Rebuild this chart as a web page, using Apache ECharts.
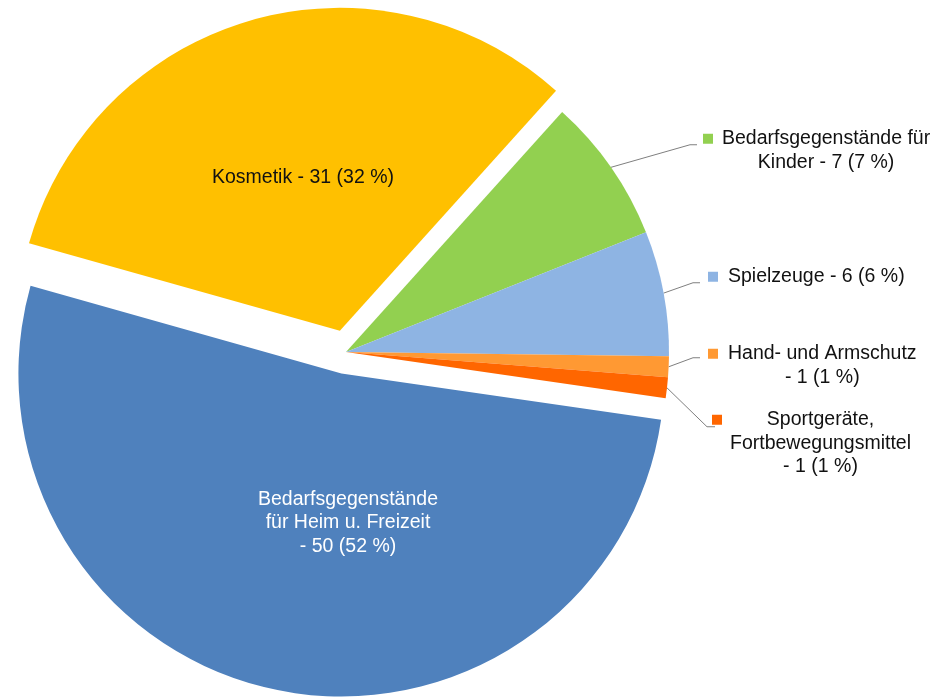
<!DOCTYPE html>
<html>
<head>
<meta charset="utf-8">
<script src="https://cdn.jsdelivr.net/npm/echarts@6/dist/echarts.min.js"></script>
<style>
  html, body { margin: 0; padding: 0; background: #ffffff; }
  #chart { width: 944px; height: 700px; }
</style>
</head>
<body>
<div id="chart"></div>
<script>
// Beanstandete Proben nach Produktgruppe (Anzahl)
const categories = [
  'Bedarfsgegenstände für\nKinder',
  'Spielzeuge',
  'Hand- und Armschutz',
  'Sportgeräte,\nFortbewegungsmittel',
  'Bedarfsgegenstände\nfür Heim u. Freizeit',
  'Kosmetik'
];
const values = [7, 6, 1, 1, 50, 31];
const colors = ['#92D050', '#8EB4E3', '#FF9933', '#FF6600', '#4F81BD', '#FFC000'];
const exploded = [false, false, false, false, true, true];
const valueOnNewLine = [false, false, true, true, true, false];

// label placement: outer labels carry a colour key and a leader line,
// inner labels sit inside their (pulled-out) slice
const LINE_H = 23.5;
const labelPlacement = [
  { left: 703, top: 127, endDx: -6, endDy: 6, bendDx: -7, gap: 9 },
  { left: 708, top: 265, endDx: -8, endDy: 6, bendDx: -7, gap: 10 },
  { left: 708, top: 342, endDx: -8, endDy: 4, bendDx: -7, gap: 10 },
  { left: 712, top: 408, endDx: 3, endDy: 7, bendDx: -8, gap: 8 },
  { inner: true, cx: 348, cy: 523, color: '#ffffff' },
  { inner: true, cx: 303, cy: 178, color: '#111111' }
];

const PIE_CENTER = [346, 352];
const PIE_RADIUS = [0, 323];
const START_ANGLE = 48;
const FONT = { fontFamily: 'Liberation Sans, Arial, sans-serif', fontSize: 19.5, lineHeight: LINE_H };

function labelText(params) {
  const i = params.dataIndex;
  const pct = Math.round(params.percent);
  const sep = valueOnNewLine[i] ? '\n' : ' ';
  return params.name + sep + '- ' + params.value + ' (' + pct + ' %)';
}

const rich = {};
colors.forEach(function (c, i) {
  const gap = labelPlacement[i].gap || 0;
  rich['k' + i] = { width: 10, height: 10, backgroundColor: c, align: 'left' };
  rich['g' + i] = { width: gap, align: 'left' };
  rich['p' + i] = { width: 10 + gap, align: 'left' };
});

// slices, with outer labels and leader lines
const sliceData = categories.map(function (name, i) {
  const inner = !!labelPlacement[i].inner;
  return {
    name: name,
    value: values[i],
    selected: exploded[i],
    itemStyle: { color: colors[i] },
    label: { show: !inner },
    labelLine: { show: !inner }
  };
});

// transparent overlay of the same slices, carrying the inner labels
const innerLabelData = categories.map(function (name, i) {
  const p = labelPlacement[i];
  return {
    name: name,
    value: values[i],
    label: p.inner ? { show: true, color: p.color } : { show: false }
  };
});

const chart = echarts.init(document.getElementById('chart'), null, { renderer: 'canvas' });

chart.setOption({
  animation: false,
  backgroundColor: '#ffffff',
  series: [{
    type: 'pie',
    center: PIE_CENTER,
    radius: PIE_RADIUS,
    startAngle: START_ANGLE,
    clockwise: true,
    selectedMode: 'multiple',
    selectedOffset: 22,
    avoidLabelOverlap: false,
    emphasis: { disabled: true },
    itemStyle: { borderWidth: 0 },
    label: Object.assign({
      position: 'outside',
      color: '#111111',
      align: 'center',
      rich: rich,
      formatter: function (params) {
        const i = params.dataIndex;
        return labelText(params).split('\n').map(function (ln, k) {
          return k === 0 ? '{k' + i + '|}{g' + i + '|}' + ln : '{p' + i + '|}' + ln;
        }).join('\n');
      }
    }, FONT),
    labelLine: {
      length: 10,
      length2: 10,
      smooth: false,
      lineStyle: { color: '#7f7f7f', width: 1 }
    },
    labelLayout: function (params) {
      const p = labelPlacement[params.dataIndex];
      if (p.inner) return {};
      const r = params.labelRect;
      const endX = p.left + p.endDx;
      const endY = p.top + LINE_H / 2 + p.endDy;
      const start = params.labelLinePoints ? params.labelLinePoints[0] : [endX, endY];
      return {
        x: p.left + r.width / 2,
        y: p.top,
        align: 'center',
        verticalAlign: 'top',
        labelLinePoints: [start, [endX + p.bendDx, endY], [endX, endY]]
      };
    },
    data: sliceData
  }, {
    type: 'pie',
    center: PIE_CENTER,
    radius: PIE_RADIUS,
    startAngle: START_ANGLE,
    clockwise: true,
    silent: true,
    avoidLabelOverlap: false,
    emphasis: { disabled: true },
    itemStyle: { color: 'rgba(0,0,0,0)', borderWidth: 0 },
    labelLine: { show: false },
    label: Object.assign({
      position: 'inside',
      align: 'center',
      formatter: labelText
    }, FONT),
    labelLayout: function (params) {
      const p = labelPlacement[params.dataIndex];
      if (!p.inner) return {};
      return { x: p.cx, y: p.cy, align: 'center', verticalAlign: 'middle' };
    },
    data: innerLabelData
  }]
});
</script>
</body>
</html>
